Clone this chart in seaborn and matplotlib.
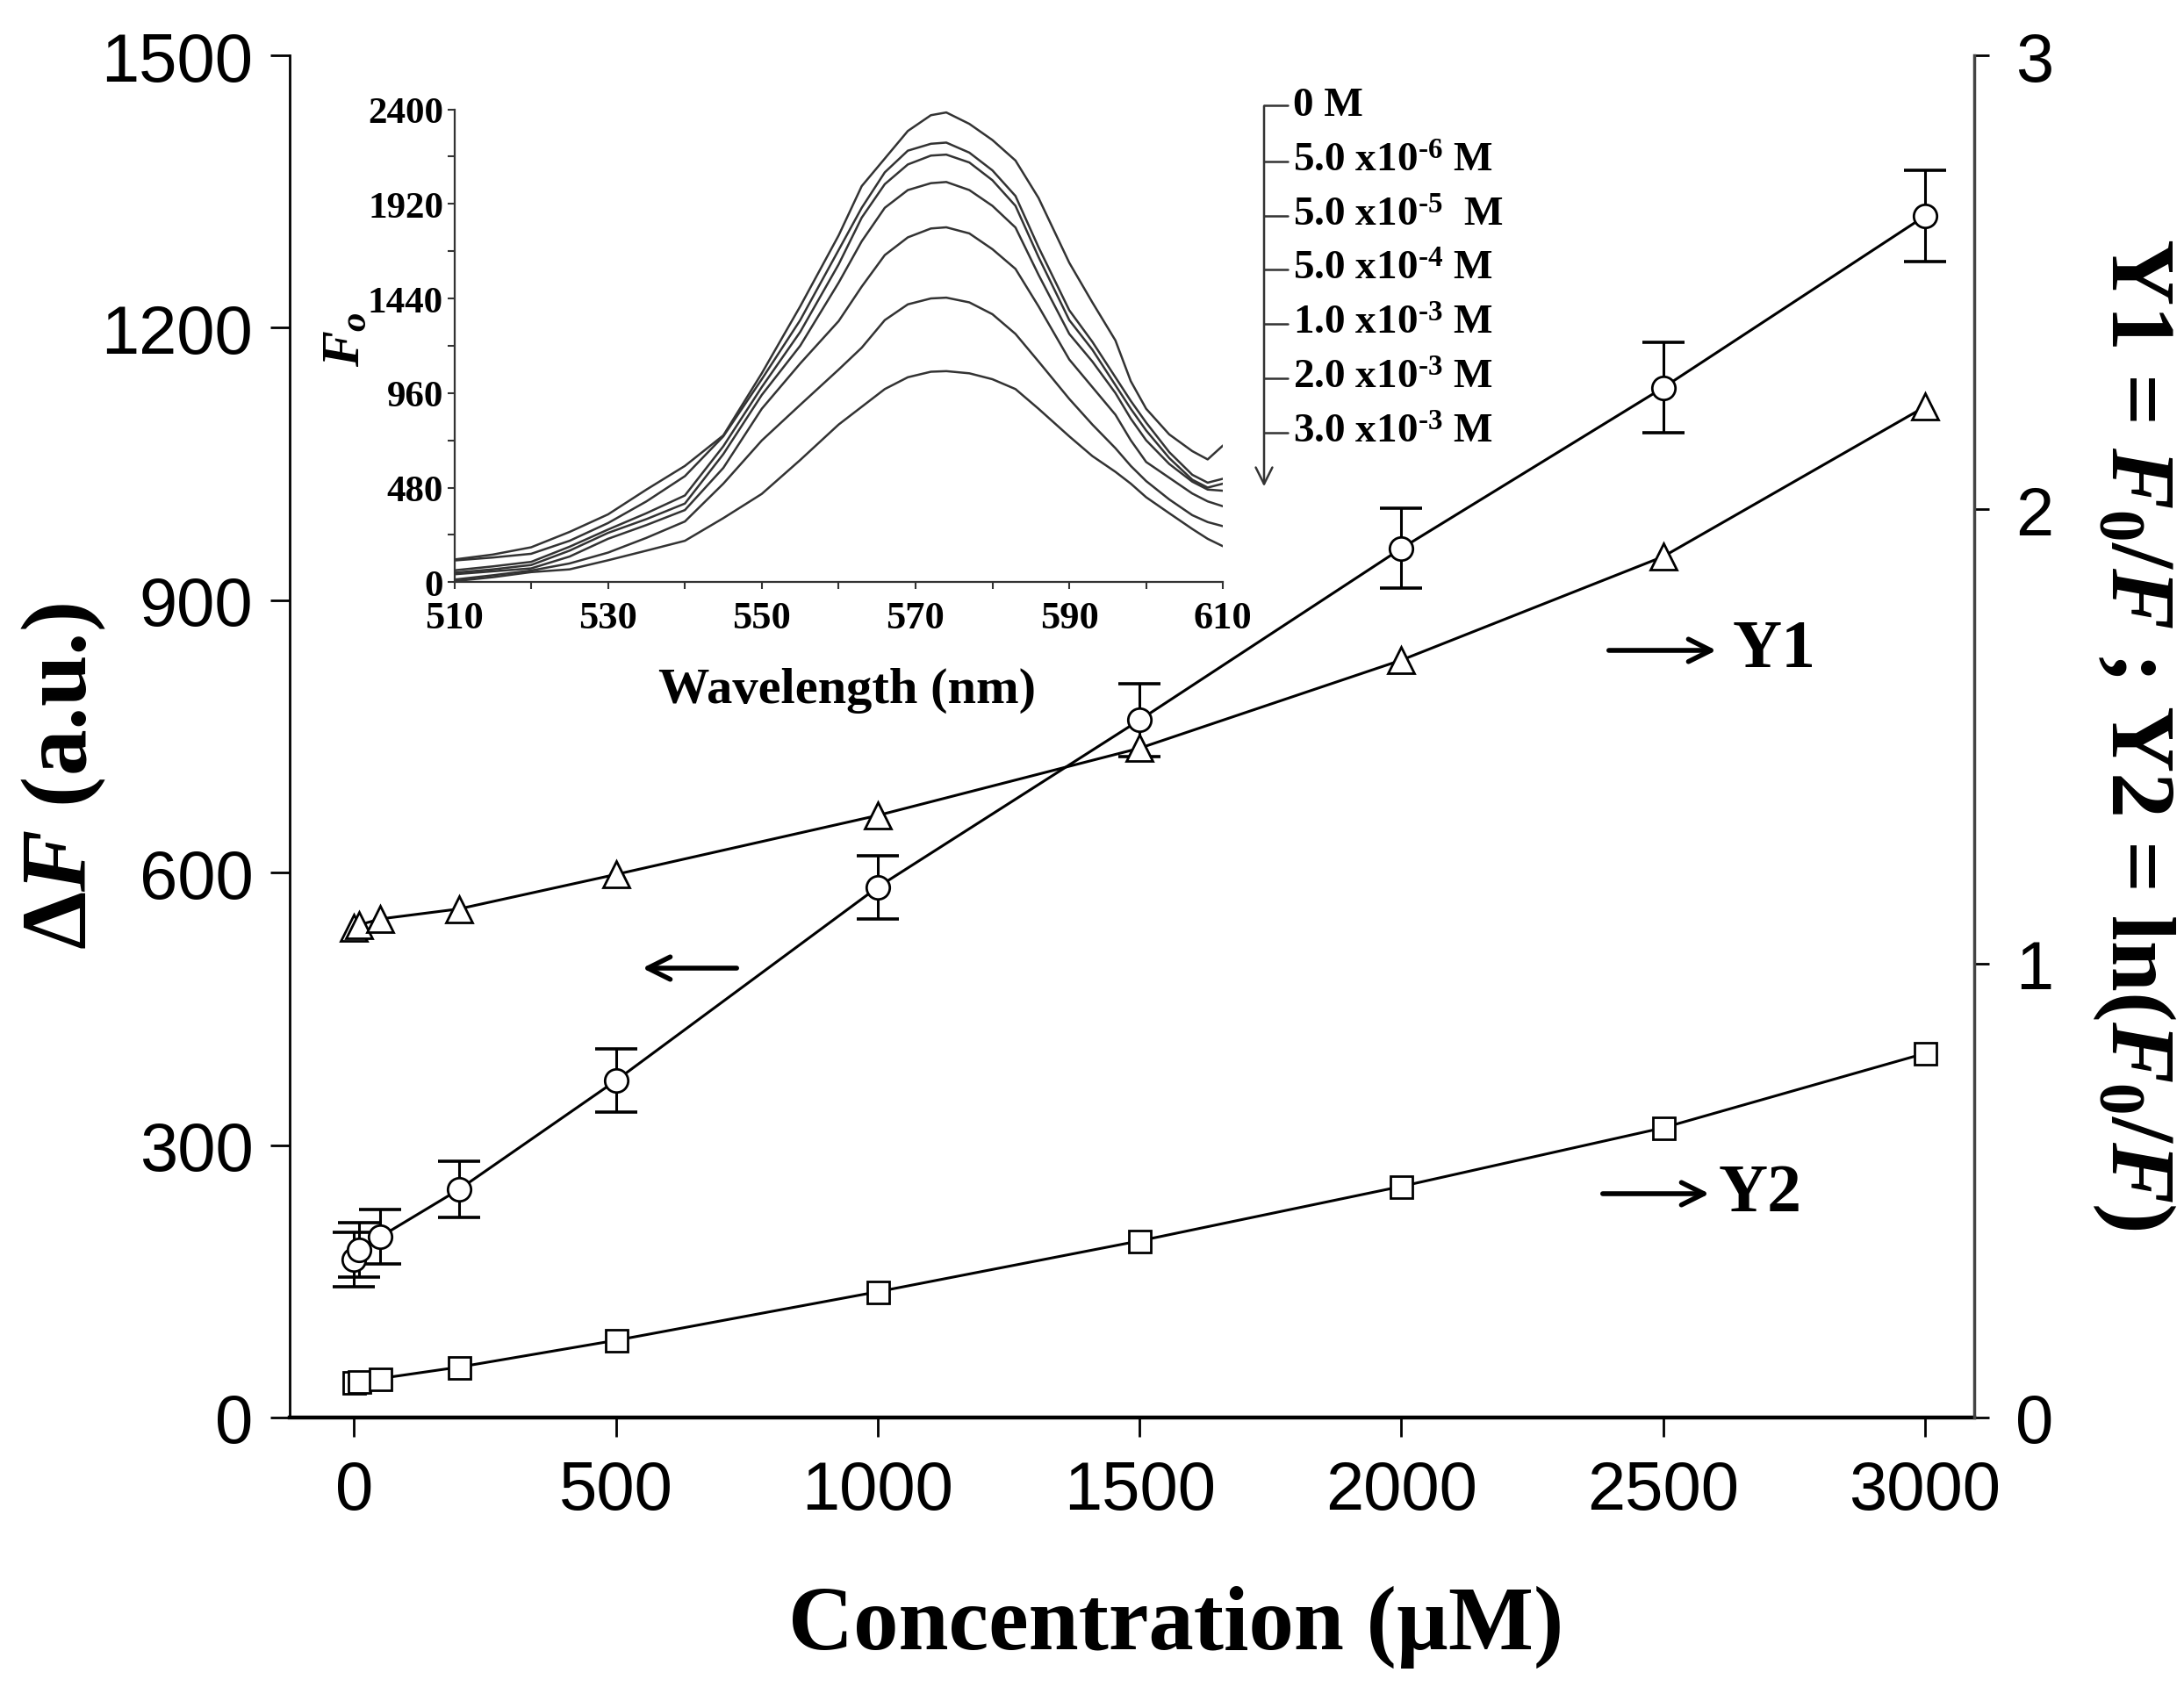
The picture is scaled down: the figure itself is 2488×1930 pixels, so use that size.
import matplotlib
matplotlib.use("Agg")
import matplotlib.pyplot as plt
from matplotlib.lines import Line2D
import seaborn as sns

# main plot data (concentration in uM)
conc = [0, 10, 50, 200, 500, 1000, 1500, 2000, 2500, 3000]
delta_f = [174, 185, 199, 251, 371, 584, 768, 957, 1134, 1323]
delta_f_err = [30, 30, 30, 31, 35, 35, 40, 44, 50, 50]
y1_ratio = [1.079, 1.085, 1.098, 1.120, 1.196, 1.326, 1.474, 1.668, 1.896, 2.226]
y2_ln = [0.077, 0.080, 0.086, 0.111, 0.170, 0.277, 0.389, 0.509, 0.638, 0.802]

conc_ticks = [0, 500, 1000, 1500, 2000, 2500, 3000]
df_ticks = [0, 300, 600, 900, 1200, 1500]
ratio_ticks = [0, 1, 2, 3]

# inset: emission spectra
wavelength = [510, 515, 520, 525, 530, 535, 540, 545, 550, 555, 560, 563, 566, 569,
              572, 574, 577, 580, 583, 586, 590, 593, 596, 598, 600, 603, 606, 608, 610]
spec_0 = [115, 140, 177, 255, 344, 470, 590, 745, 1060, 1400, 1760, 2010, 2150, 2290,
          2370, 2384, 2326, 2244, 2140, 1950, 1621, 1420, 1227, 1020, 880, 750, 665, 623, 694]
spec_1 = [110, 125, 144, 210, 300, 410, 538, 740, 1030, 1330, 1686, 1900, 2080, 2190,
          2225, 2231, 2180, 2090, 1960, 1700, 1380, 1220, 1040, 920, 810, 660, 545, 505, 525]
spec_2 = [60, 80, 103, 180, 267, 350, 440, 690, 990, 1270, 1613, 1850, 2020, 2120,
          2165, 2170, 2130, 2040, 1910, 1650, 1330, 1180, 1000, 880, 770, 630, 520, 480, 500]
spec_3 = [48, 65, 87, 160, 250, 320, 399, 650, 950, 1200, 1520, 1730, 1900, 1990,
          2025, 2031, 1990, 1910, 1800, 1560, 1260, 1120, 960, 830, 720, 600, 510, 470, 464]
spec_4 = [40, 55, 70, 130, 220, 290, 366, 580, 880, 1110, 1325, 1500, 1660, 1750,
          1795, 1801, 1770, 1690, 1590, 1400, 1130, 990, 850, 720, 610, 530, 450, 410, 385]
spec_5 = [13, 35, 59, 95, 150, 225, 308, 500, 719, 900, 1079, 1190, 1330, 1410,
          1440, 1444, 1420, 1360, 1260, 1120, 930, 800, 680, 590, 513, 420, 340, 305, 284]
spec_6 = [5, 25, 51, 65, 111, 160, 210, 325, 448, 620, 800, 890, 980, 1040,
          1068, 1071, 1060, 1030, 980, 880, 740, 640, 560, 500, 431, 350, 270, 220, 182]
spectra = [spec_0, spec_1, spec_2, spec_3, spec_4, spec_5, spec_6]

spec_labels = ["0 M", "5.0 x10$^{\u20106}$ M", "5.0 x10$^{\u20105}$  M", "5.0 x10$^{\u20104}$ M",
               "1.0 x10$^{\u20103}$ M", "2.0 x10$^{\u20103}$ M", "3.0 x10$^{\u20103}$ M"]
wl_ticks = [510, 530, 550, 570, 590, 610]
fo_ticks = [0, 480, 960, 1440, 1920, 2400]

sns.set_style("ticks")
plt.rcParams["font.family"] = ["Liberation Sans", "DejaVu Sans"]
plt.rcParams["mathtext.fontset"] = "custom"
plt.rcParams["mathtext.rm"] = "Liberation Serif:bold"
plt.rcParams["mathtext.it"] = "Liberation Serif:italic:bold"
plt.rcParams["mathtext.bf"] = "Liberation Serif:bold"
for key in ["text.color", "axes.labelcolor", "xtick.color", "ytick.color", "axes.edgecolor"]:
    plt.rcParams[key] = "black"

W, H = 2488, 1931
fig = plt.figure(figsize=(W / 100, H / 100), dpi=100)


def fx(px):
    return px / W


def fy(py):
    return 1 - py / H


serif = dict(family="Liberation Serif", weight="bold")

# ---- main axes
ax = fig.add_axes([fx(330), fy(1616), fx(2249 - 330), (1616 - 64) / H])
ax.errorbar(conc, delta_f, yerr=delta_f_err, fmt="none", ecolor="black",
            elinewidth=2.2, capsize=17, capthick=2.6, zorder=1)
sns.lineplot(x=conc, y=delta_f, ax=ax, color="black", lw=2.2, marker="o", ms=19,
             mfc="white", mec="black", mew=2, zorder=3)
ax.set_xlim(-123, 3094)
ax.set_ylim(0, 1500)
ax.set_xticks(conc_ticks, labels=[str(t) for t in conc_ticks], fontsize=56)
ax.set_yticks(df_ticks, labels=[str(t) for t in df_ticks], fontsize=56)
ax.tick_params(axis="x", direction="out", length=16, width=2, pad=18)
ax.tick_params(axis="y", direction="out", length=16, width=2, pad=14)
ax.spines["top"].set_visible(False)
ax.spines["right"].set_visible(False)
ax.spines["left"].set_linewidth(2)
ax.spines["bottom"].set_linewidth(3.2)

ax.set_xlabel("Concentration (µM)", fontsize=74, **serif)
ax.xaxis.set_label_coords(0.526, -0.153)
ax.xaxis.label.set_va("center")
ax.set_ylabel(r"$\Delta F$ (a.u.)", fontsize=76, **serif)
ax.yaxis.set_label_coords(-0.134, 0.471)
ax.yaxis.label.set_va("center")

ax2 = ax.twinx()
sns.lineplot(x=conc, y=y1_ratio, ax=ax2, color="black", lw=2.2, marker="^", ms=21,
             mfc="white", mec="black", mew=2)
sns.lineplot(x=conc, y=y2_ln, ax=ax2, color="black", lw=2.2, marker="s", ms=18,
             mfc="white", mec="black", mew=2)
ax2.set_ylim(0, 3)
ax2.set_yticks(ratio_ticks, labels=[str(t) for t in ratio_ticks], fontsize=56)
ax2.tick_params(axis="y", direction="out", length=12, width=2, pad=22)
for s in ["top", "left", "bottom"]:
    ax2.spines[s].set_visible(False)
ax2.spines["right"].set_linewidth(2.5)
ax2.spines["right"].set_color("#444444")
ax2.set_ylabel(r"Y1 = $F_{\mathit{0}}/F$ ; Y2 = ln($F_{\mathit{0}}/F$)", fontsize=75,
               rotation=270, **serif)
ax2.yaxis.set_label_coords(1.095, 0.502)
ax2.yaxis.label.set_va("center")

# arrows pointing to the axis each series belongs to
arrow = dict(arrowstyle="->", lw=4, color="black", mutation_scale=46)
ax.annotate("", xy=(fx(729), fy(1104)), xytext=(fx(842), fy(1104)),
            xycoords="figure fraction", arrowprops=arrow)
ax.annotate("", xy=(fx(1958), fy(742)), xytext=(fx(1830), fy(742)),
            xycoords="figure fraction", arrowprops=arrow)
ax.annotate("", xy=(fx(1950), fy(1361)), xytext=(fx(1823), fy(1361)),
            xycoords="figure fraction", arrowprops=arrow)
fig.text(fx(1974), fy(742), "Y1", fontsize=56, va="center", ha="left", **serif)
fig.text(fx(1958), fy(1361), "Y2", fontsize=56, va="center", ha="left", **serif)

# ---- inset
axin = fig.add_axes([0.208, 0.656, 0.352, 0.279])
axin.patch.set_alpha(0)
for spec in spectra:
    sns.lineplot(x=wavelength, y=spec, ax=axin, color="#333333", lw=1.8)
axin.set_xlim(510, 610)
axin.set_ylim(0, 2400)
axin.set_xticks(wl_ticks, labels=[str(t) for t in wl_ticks], fontsize=32, **serif)
axin.set_yticks(fo_ticks, labels=[str(t) for t in fo_ticks], fontsize=31, **serif)
axin.set_xticks(range(520, 610, 20), minor=True)
axin.set_yticks(range(240, 2400, 480), minor=True)
axin.tick_params(which="both", direction="out", length=6, width=1.5, color="#333333")
axin.tick_params(axis="x", pad=9)
axin.tick_params(axis="y", pad=3)
axin.spines["top"].set_visible(False)
axin.spines["right"].set_visible(False)
for s in ["left", "bottom"]:
    axin.spines[s].set_linewidth(1.6)
    axin.spines[s].set_color("#333333")
axin.set_xlabel("Wavelength (nm)", fontsize=42, **serif)
axin.xaxis.set_label_coords(0.511, -0.227)
axin.xaxis.label.set_va("center")
axin.set_ylabel(r"$F_o$", fontsize=44, **serif)
axin.yaxis.set_label_coords(-0.142, 0.516)
axin.yaxis.label.set_va("center")

# inset concentration key: vertical arrow with tick marks
key_x = 1440
key_ys = [121, 185, 247, 308, 370, 432, 494]
axin.annotate("", xy=(fx(key_x), fy(558)), xytext=(fx(key_x), fy(119)),
              xycoords="figure fraction",
              arrowprops=dict(arrowstyle="->", lw=1.8, color="#333333", mutation_scale=34))
for ty, lab in zip(key_ys, spec_labels):
    fig.add_artist(Line2D([fx(key_x), fx(key_x + 27)], [fy(ty), fy(ty)],
                          color="#333333", lw=1.8))
    fig.text(fx(key_x + 33), fy(ty), lab, fontsize=34, va="center", ha="left", **serif)

fig.savefig("out.png", dpi=100)
